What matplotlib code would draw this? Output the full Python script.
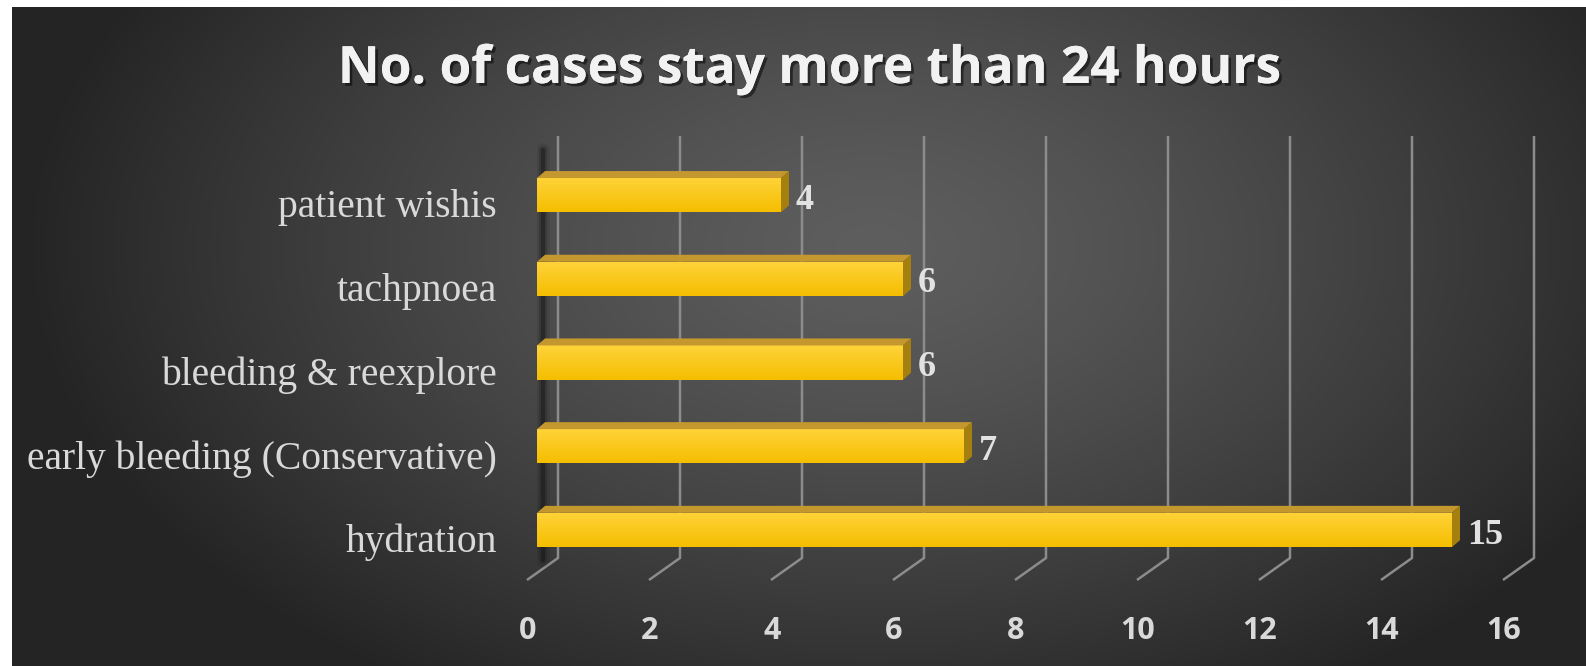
import numpy as np
import matplotlib
matplotlib.use("Agg")
import matplotlib.pyplot as plt
from matplotlib.patches import Polygon
from matplotlib.transforms import ScaledTranslation
import matplotlib.patheffects as pe

categories = ["hydration", "early bleeding (Conservative)", "bleeding & reexplore",
              "tachpnoea", "patient wishis"]
values = [15, 7, 6, 6, 4]
xticks = list(range(0, 17, 2))
title = "No. of cases stay more than 24 hours"

W, H = 1586, 666
fig = plt.figure(figsize=(W / 100, H / 100), dpi=100)
fig.patch.set_facecolor("white")

# background with radial gradient (white strip left/top like the screenshot)
bg = fig.add_axes([12 / W, 0, 1 - 12 / W, (H - 7) / H])
bg.set_axis_off()
yy, xx = np.mgrid[0:H - 7, 0:W - 12]
d = np.sqrt(((xx - 860) / 850.0) ** 2 + ((yy - 240) / 520.0) ** 2)
d = np.clip(d, 0, 1) ** 1.3
c0, c1 = np.array([0x5e, 0x5e, 0x5e]) / 255, np.array([0x24, 0x24, 0x24]) / 255
img = c0[None, None, :] * (1 - d[..., None]) + c1[None, None, :] * d[..., None]
bg.imshow(img, aspect="auto", interpolation="bilinear")

# main plot area: x 0..16 maps 537..1513 px, front floor at 580 px, top 136 px
x0, x1 = 537, 1513
ytop, ybot = 136, 580
ax = fig.add_axes([x0 / W, (H - ybot) / H, (x1 - x0) / W, (ybot - ytop) / H])
ax.set_facecolor("none")
for s in ax.spines.values():
    s.set_visible(False)
ax.set_xlim(0, 16)
ypp = 83.7
ax.set_ylim((530 - ybot) / ypp, (530 - ytop) / ypp)
xpp = (x1 - x0) / 16.0

# gridlines with 3d floor
back = 21 / xpp
front = -10 / xpp
yfloor_back = (530 - 558) / ypp
ylo, yhi = ax.get_ylim()
for g in xticks:
    ax.plot([g + back, g + back, g + front], [yhi, yfloor_back, ylo],
            color="#8c8c8c", lw=1.8, solid_capstyle="butt", clip_on=False, zorder=1)

# back wall shadow line
for lw, a in [(10, 0.10), (6, 0.2), (3, 0.4)]:
    ax.plot([6 / xpp, 6 / xpp], [(530 - 560) / ypp, (530 - 150) / ypp],
            color="#111111", lw=lw, alpha=a, solid_capstyle="round", zorder=1)

# bars
ypos = np.arange(len(categories))
h = 0.41
dx, dy = 8 / xpp, 7 / ypp
bars = ax.barh(ypos, values, height=h, left=0, color="#ffc800", zorder=3)
grad = np.linspace(0, 1, 64)[:, None]
gcol = np.zeros((64, 1, 3))
top_c = np.array([0xff, 0xd3, 0x3a]) / 255
bot_c = np.array([0xf5, 0xbe, 0x00]) / 255
gcol[:, 0, :] = top_c * (1 - grad) + bot_c * grad
for b, v, y in zip(bars, values, ypos):
    im = ax.imshow(gcol, extent=[0, v, y - h / 2, y + h / 2], aspect="auto",
                   origin="upper", zorder=3.1, interpolation="bilinear")
    im.set_clip_path(b)
    ax.add_patch(Polygon([(0, y + h / 2), (v, y + h / 2), (v + dx, y + h / 2 + dy),
                          (dx, y + h / 2 + dy)], closed=True, facecolor="#c4972f",
                         edgecolor="none", zorder=3.2))
    ax.add_patch(Polygon([(v, y - h / 2), (v + dx, y - h / 2 + dy),
                          (v + dx, y + h / 2 + dy), (v, y + h / 2)], closed=True,
                         facecolor="#a6800e", edgecolor="none", zorder=3.2))
    ax.text(v + dx + 7 / xpp, y - 5 / ypp, str(v), ha="left", va="center",
            fontfamily="Liberation Serif", fontweight="bold", fontsize=26,
            color="#e2e2e2", zorder=4)

ax.set_xticks(xticks)
ax.set_xticklabels([str(t) for t in xticks], fontfamily="Open Sans",
                   fontweight="bold", fontsize=22, color="#d9d9d9")
ax.tick_params(axis="x", length=0, pad=26)
off = ScaledTranslation(-9 / 100, 0, fig.dpi_scale_trans)
for lab in ax.get_xticklabels():
    lab.set_transform(lab.get_transform() + off)

ax.set_yticks(ypos)
ax.set_yticklabels(categories, fontfamily="Liberation Serif", fontsize=28.5,
                   color="#d9d9d9")
ax.tick_params(axis="y", length=0, pad=29)
yoff = ScaledTranslation(0, -8 / 100, fig.dpi_scale_trans)
for lab in ax.get_yticklabels():
    lab.set_transform(lab.get_transform() + yoff)

fig.text(809 / W, 1 - 70 / H, title, ha="center", va="center",
         fontfamily="Open Sans", fontweight="bold", fontsize=37, color="#f2f2f2",
         path_effects=[pe.withSimplePatchShadow(offset=(2, -2), shadow_rgbFace="black",
                                                alpha=0.5), pe.Normal()])

fig.savefig("out.png", dpi=100, facecolor=fig.get_facecolor())
